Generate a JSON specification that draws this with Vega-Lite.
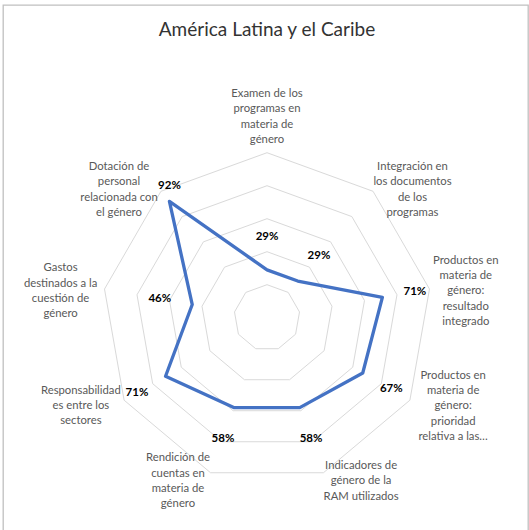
{
  "$schema": "https://vega.github.io/schema/vega-lite/v6.json",
  "autosize": "none",
  "width": 525,
  "height": 530,
  "padding": {"left": 3, "top": 5, "right": 1, "bottom": 0},
  "config": {"view": {"stroke": "#c0c0c0", "strokeWidth": 1.3}, "font": "Lato"},
  "datasets": {
    "axes": [
      {"i": 0, "label": ["Examen de los", "programas en", "materia de", "género"], "value": 0.29},
      {"i": 1, "label": ["Integración en", "los documentos", "de los", "programas"], "value": 0.29},
      {"i": 2, "label": ["Productos en", "materia de", "género:", "resultado", "integrado"], "value": 0.71},
      {"i": 3, "label": ["Productos en", "materia de", "género:", "prioridad", "relativa a las…"], "value": 0.67},
      {"i": 4, "label": ["Indicadores de", "género de la", "RAM utilizados"], "value": 0.58},
      {"i": 5, "label": ["Rendición de", "cuentas en", "materia de", "género"], "value": 0.58},
      {"i": 6, "label": ["Responsabilidad", "es entre los", "sectores"], "value": 0.71},
      {"i": 7, "label": ["Gastos", "destinados a la", "cuestión de", "género"], "value": 0.46},
      {"i": 8, "label": ["Dotación de", "personal", "relacionada con", "el género"], "value": 0.92}
    ],
    "rings": [
      {"level": 0.2, "i": [0, 1, 2, 3, 4, 5, 6, 7, 8]},
      {"level": 0.4, "i": [0, 1, 2, 3, 4, 5, 6, 7, 8]},
      {"level": 0.6, "i": [0, 1, 2, 3, 4, 5, 6, 7, 8]},
      {"level": 0.8, "i": [0, 1, 2, 3, 4, 5, 6, 7, 8]},
      {"level": 1.0, "i": [0, 1, 2, 3, 4, 5, 6, 7, 8]}
    ]
  },
  "layer": [
    {
      "data": {"name": "rings"},
      "transform": [
        {"flatten": ["i"]},
        {"calculate": "datum.i * 2 * PI / 9", "as": "theta"},
        {"calculate": "datum.level * sin(datum.theta)", "as": "gx"},
        {"calculate": "datum.level * cos(datum.theta)", "as": "gy"}
      ],
      "mark": {"type": "line", "interpolate": "linear-closed", "stroke": "#d9d9d9", "strokeWidth": 1},
      "encoding": {
        "x": {"field": "gx", "type": "quantitative", "scale": {"domain": [-1.6, 1.5818], "nice": false, "zero": false}, "axis": null},
        "y": {"field": "gy", "type": "quantitative", "scale": {"domain": [-1.317, 1.8952], "nice": false, "zero": false}, "axis": null},
        "detail": {"field": "level", "type": "nominal"},
        "order": {"field": "i", "type": "quantitative"}
      }
    },
    {
      "data": {"name": "axes"},
      "transform": [
        {"calculate": "datum.i * 2 * PI / 9", "as": "theta"},
        {"calculate": "datum.value * sin(datum.theta)", "as": "px"},
        {"calculate": "datum.value * cos(datum.theta)", "as": "py"}
      ],
      "mark": {"type": "line", "interpolate": "linear-closed", "stroke": "#4472C4", "strokeWidth": 3.3, "strokeJoin": "round"},
      "encoding": {
        "x": {"field": "px", "type": "quantitative"},
        "y": {"field": "py", "type": "quantitative"},
        "order": {"field": "i", "type": "quantitative"}
      }
    },
    {
      "data": {"name": "axes"},
      "transform": [
        {"calculate": "datum.i * 2 * PI / 9", "as": "theta"},
        {"calculate": "datum.value + 0.2 > 1", "as": "inside"},
        {"calculate": "datum.inside ? datum.value * sin(datum.theta) : (datum.value + 0.2) * sin(datum.theta)", "as": "lx"},
        {"calculate": "datum.inside ? datum.value * cos(datum.theta) + 15 / 165 : (datum.value + 0.2) * cos(datum.theta)", "as": "ly"}
      ],
      "mark": {"type": "text", "fontWeight": "bold", "fontSize": 11.5, "color": "#000000", "align": "center", "baseline": "middle"},
      "encoding": {
        "x": {"field": "lx", "type": "quantitative"},
        "y": {"field": "ly", "type": "quantitative"},
        "text": {"field": "value", "type": "quantitative", "format": ".0%"}
      }
    },
    {
      "data": {"name": "axes"},
      "transform": [
        {"calculate": "datum.i * 2 * PI / 9", "as": "theta"},
        {"calculate": "sin(datum.theta)", "as": "sx"},
        {"calculate": "cos(datum.theta)", "as": "cy"},
        {"calculate": "length(datum.label)", "as": "nl"},
        {"calculate": "max(length(datum.label[0]), datum.label[1] ? length(datum.label[1]) : 0, datum.label[2] ? length(datum.label[2]) : 0, datum.label[3] ? length(datum.label[3]) : 0, datum.label[4] ? length(datum.label[4]) : 0)", "as": "ml"},
        {"calculate": "datum.ml * 5.1 / 2 / 165", "as": "hw"},
        {"calculate": "datum.nl * 15 / 2 / 165", "as": "hh"},
        {"calculate": "1.035 * datum.sx + datum.hw * clamp(datum.sx / 0.3, -1, 1)", "as": "tx"},
        {"calculate": "1.035 * datum.cy + (datum.cy > 0 ? 1 : -1) * datum.hh * (1 - clamp(abs(datum.sx) / 0.3, 0, 1)) + (datum.nl - 1) * 7.6 / 165 - (abs(datum.sx) > 0.3 ? 3 / 165 : 0)", "as": "ty"}
      ],
      "mark": {"type": "text", "fontSize": 11.3, "lineHeight": 15.3, "color": "#595959", "align": "center", "baseline": "middle"},
      "encoding": {
        "x": {"field": "tx", "type": "quantitative"},
        "y": {"field": "ty", "type": "quantitative"},
        "text": {"field": "label", "type": "nominal"}
      }
    },
    {
      "data": {"values": [{"t": "América Latina y el Caribe"}]},
      "mark": {"type": "text", "fontSize": 19, "color": "#333333", "align": "center", "baseline": "alphabetic"},
      "encoding": {
        "x": {"datum": 0, "type": "quantitative"},
        "y": {"datum": 1.707, "type": "quantitative"},
        "text": {"field": "t", "type": "nominal"}
      }
    }
  ]
}
